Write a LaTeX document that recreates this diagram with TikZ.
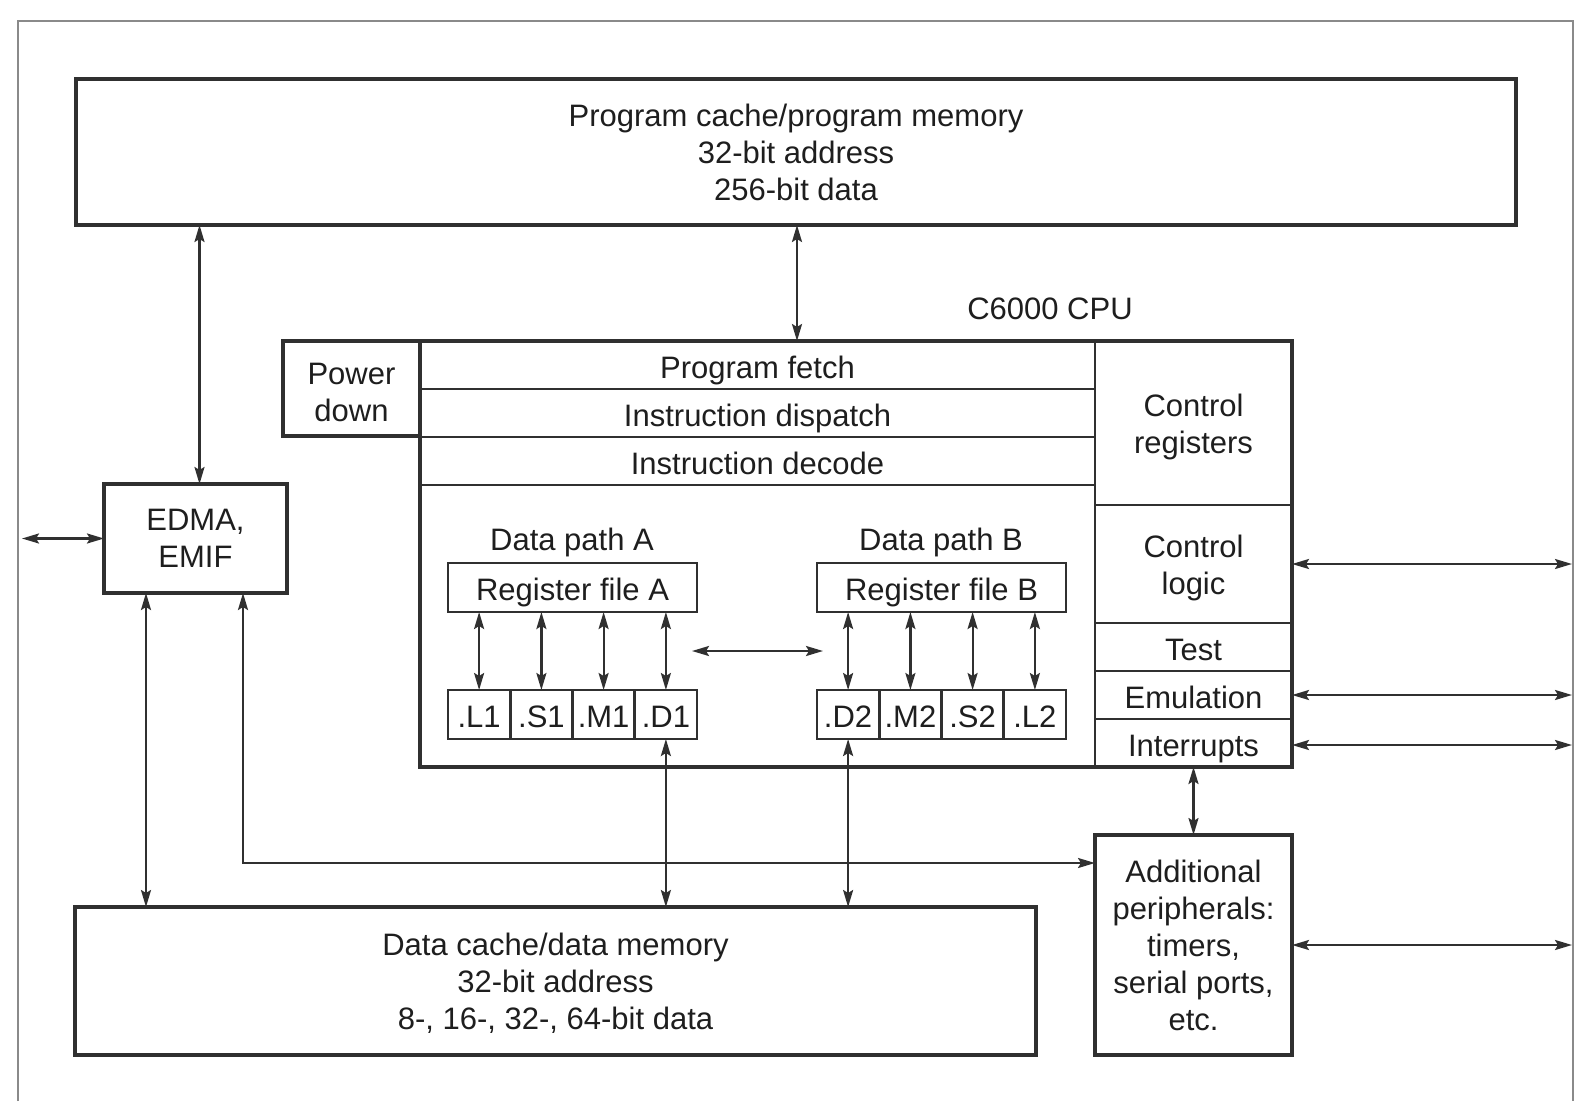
\documentclass[tikz,border=0pt]{standalone}
\usepackage{fontspec}
\setmainfont{Liberation Sans}
\usetikzlibrary{arrows.meta}
\definecolor{boxc}{HTML}{303030}
\definecolor{linec}{HTML}{303030}
\definecolor{framec}{HTML}{8A8A8A}
\definecolor{txt}{HTML}{1E1E1E}
\newcommand{\upstrut}{\rule{0pt}{30pt}}
\begin{document}
\begin{tikzpicture}[x=1pt,y=-1pt,
  every node/.style={inner sep=0pt, outer sep=0pt, text=txt, align=center,
    font=\fontsize{31}{37}\selectfont},
  one/.style={text height=26pt, text depth=0pt},
  box/.style={draw=boxc, line width=3.4pt},
  thinbox/.style={draw=boxc, line width=2.6pt},
  tip/.tip={Stealth[length=17pt,width=10pt,inset=3pt]},
  conn/.style={draw=linec, line width=2.2pt, tip-tip}
]
\useasboundingbox (0,0) rectangle (1583,1101);
\fill[white] (0,0) rectangle (1583,1101);
% outer frame
\draw[framec, line width=2.8pt] (18,1101) -- (18,21) -- (1573,21) -- (1573,1101);

% program memory
\node[box, minimum width=1440pt, minimum height=146pt] (pm) at (796,152)
  {Program cache/program memory\\32-bit address\\256-bit data};

% CPU label
\node[one] (cpulbl) at (1050,306) {C6000 CPU};

% power down
\node[box, minimum width=137pt, minimum height=95pt] (pd) at (351.5,388.5) {\upstrut Power\\down};

% CPU rows
\node[thinbox, one, minimum width=675pt, minimum height=48pt] (fetch) at (757.5,365) {Program fetch};
\node[thinbox, one, minimum width=675pt, minimum height=48pt] (disp) at (757.5,413) {Instruction dispatch};
\node[thinbox, one, minimum width=675pt, minimum height=48pt] (dec) at (757.5,461) {Instruction decode};

% control column
\node[thinbox, minimum width=197pt, minimum height=164pt] (cr) at (1193.5,423) {\upstrut Control\\registers};
\node[thinbox, minimum width=197pt, minimum height=118pt] (cl) at (1193.5,564) {\upstrut Control\\logic};
\node[thinbox, one, minimum width=197pt, minimum height=48pt] (test) at (1193.5,647) {Test};
\node[thinbox, one, minimum width=197pt, minimum height=48pt] (emu) at (1193.5,695) {Emulation};
\node[thinbox, one, minimum width=197pt, minimum height=48pt] (int) at (1193.5,743) {Interrupts};

% CPU outer border
\node[box, minimum width=872pt, minimum height=426pt] (cpu) at (856,554) {};

% data paths
\node[one] (dpa) at (572,537) {Data path A};
\node[one] (dpb) at (941,537) {Data path B};
\node[thinbox, one, minimum width=249pt, minimum height=49pt] (rfA) at (572.5,587.5) {Register file A};
\node[thinbox, one, minimum width=249pt, minimum height=49pt] (rfB) at (941.5,587.5) {Register file B};

\foreach \n/\t/\x in {uL1/.L1/479.1, uS1/.S1/541.4, uM1/.M1/603.6, uD1/.D1/665.9,
                      uD2/.D2/848.1, uM2/.M2/910.4, uS2/.S2/972.6, uL2/.L2/1034.9}
  \node[thinbox, one, minimum width=62.25pt, minimum height=49pt] (\n) at (\x,714.5) {\t};

% EDMA
\node[box, minimum width=183pt, minimum height=109pt] (edma) at (195.5,538.5) {EDMA,\\EMIF};

% data memory
\node[box, minimum width=961pt, minimum height=148pt] (dm) at (555.5,981)
  {\rule{0pt}{26pt}Data cache/data memory\\32-bit address\\8-, 16-, 32-, 64-bit data};

% additional peripherals
\node[box, minimum width=197pt, minimum height=220pt] (ap) at (1193.5,945)
  {Additional\\peripherals:\\timers,\\serial ports,\\etc.};

% helper coordinates
\coordinate (ex) at (199.5,0);
\coordinate (pmx) at (797,225);
\coordinate (lf) at (22,538.5);
\coordinate (e1) at (146,0);
\coordinate (e2) at (243,863);
\coordinate (hA) at (692,651);
\coordinate (hB) at (823,651);
\coordinate (rf) at (1572,0);

% connectors
\draw[conn] (edma.north -| ex) -- (pm.south -| ex);
\draw[conn] (pm.south -| pmx) -- (fetch.north -| pmx);
\draw[conn] (lf) -- (edma.west);
\draw[conn] (edma.south -| e1) -- (dm.north -| e1);
\draw[conn] (edma.south -| e2) -- (e2) -- (ap.west |- e2);
\foreach \u in {uL1,uS1,uM1,uD1} \draw[conn] (rfA.south -| \u) -- (\u.north);
\foreach \u in {uD2,uM2,uS2,uL2} \draw[conn] (rfB.south -| \u) -- (\u.north);
\draw[conn] (hA) -- (hB);
\draw[conn] (uD1.south) -- (dm.north -| uD1);
\draw[conn] (uD2.south) -- (dm.north -| uD2);
\draw[conn] (int.south) -- (ap.north);
\draw[conn] (cl.east) -- (cl.east -| rf);
\draw[conn] (emu.east) -- (emu.east -| rf);
\draw[conn] ([yshift=-2pt]int.east) -- ([yshift=-2pt]int.east -| rf);
\draw[conn] (ap.east) -- (ap.east -| rf);
\end{tikzpicture}
\end{document}
